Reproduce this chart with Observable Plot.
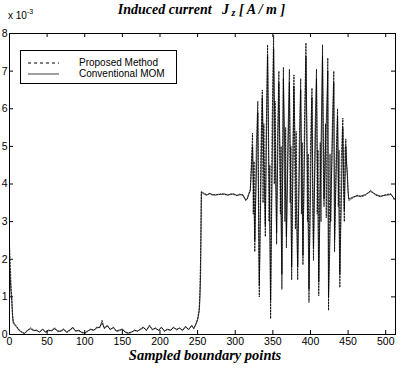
<!DOCTYPE html>
<html><head><meta charset="utf-8">
<script src="https://cdn.jsdelivr.net/npm/d3@7"></script>
<script src="https://cdn.jsdelivr.net/npm/@observablehq/plot@0.6"></script>
<style>
body{margin:0;background:#fff;}
#wrap{position:relative;width:403px;height:372px;overflow:hidden;}
.ser{font-family:"Liberation Serif","Times New Roman",serif;font-style:italic;font-weight:bold;color:#000;}
.sans{font-family:"Liberation Sans",Arial,sans-serif;color:#000;}
</style></head><body>
<div id="wrap"></div>
<script>
// Conventional MOM: sample index and induced current (x 1e-3)
const idxC = [0,1,2,3,4,5,7,10,13,17,20,24,28,32,36,40,44,48,52,56,60,64,68,72,76,80,84,88,92,96,100,104,108,112,116,120,123,126,130,134,138,142,146,150,154,158,162,166,170,174,178,182,186,190,194,198,202,206,210,214,218,222,226,230,234,238,242,245,248,250,252,253,254,255,258,262,266,270,274,278,282,286,290,294,298,302,306,310,314,316,318,320,321,323,326,330,332,336,340,343,347,351,355,358,362,364,368,372,375,378,383,387,390,394,398,402,404,408,411,416,418,423,424,431,432,436,439,443,445,447,448,449,450,451,457,462,467,473,480,487,493,500,507,512];
const conventional = [1.8,1.5,1.1,0.9,0.5,0.3,0.25,0.18,0.1,0.06,0.03,0.12,0.15,0.1,0.12,0.06,0.13,0.07,0.1,0.11,0.15,0.1,0.08,0.13,0.07,0.12,0.17,0.1,0.1,0.06,0.04,0.1,0.13,0.12,0.17,0.2,0.3,0.18,0.22,0.14,0.18,0.1,0.12,0.13,0.07,0.04,0.07,0.1,0.1,0.13,0.18,0.12,0.22,0.14,0.16,0.12,0.18,0.1,0.13,0.12,0.18,0.14,0.16,0.12,0.2,0.14,0.22,0.17,0.28,0.38,0.6,0.9,1.6,3.78,3.74,3.7,3.75,3.72,3.7,3.73,3.72,3.74,3.71,3.72,3.74,3.7,3.71,3.72,3.58,3.6,3.72,3.82,4.2,5.0,2.5,5.9,1.3,6.3,2.9,7.4,0.9,7.6,2.7,6.7,1.6,6.8,2.6,6.7,1.8,6.6,1.8,6.5,2.1,7.4,1.2,6.3,2.3,6.8,1.4,7.4,3.6,7.0,1.0,6.7,2.5,5.8,1.6,5.5,3.3,5.0,4.5,4.2,3.78,3.6,3.66,3.68,3.68,3.72,3.8,3.72,3.68,3.7,3.72,3.6];
// Proposed Method: sample index and induced current (x 1e-3)
const idxP = [0,1,2,3,4,5,7,10,13,17,20,24,28,32,36,40,44,48,52,56,60,64,68,72,76,80,84,88,92,96,100,104,108,112,116,120,123,126,130,134,138,142,146,150,154,158,162,166,170,174,178,182,186,190,194,198,202,206,210,214,218,222,226,230,234,238,242,245,248,250,252,253,254,255,258,262,266,270,274,278,282,286,290,294,298,302,306,310,314,316,318,320,321,323,324,325,326,328,330,331,332,334,336,337,338,340,341,343,345,346,347,349,351,352,353,355,356,358,360,361,362,363,364,366,367,368,370,372,373,374,375,377,378,380,381,383,385,387,388,389,390,392,394,396,397,398,400,402,403,404,406,408,409,410,411,413,414,416,417,418,420,421,423,424,426,427,429,431,432,434,436,437,438,439,441,443,444,445,446,447,448,449,450,451,457,462,467,473,480,487,493,500,507,512];
const proposed = [2.4,1.9,1.3,1.0,0.55,0.35,0.28,0.2,0.12,0.05,0.02,0.1,0.18,0.12,0.1,0.07,0.15,0.05,0.12,0.09,0.18,0.08,0.1,0.15,0.05,0.1,0.2,0.08,0.12,0.05,0.03,0.08,0.15,0.1,0.2,0.18,0.38,0.15,0.25,0.12,0.2,0.08,0.1,0.15,0.05,0.03,0.05,0.12,0.08,0.15,0.2,0.1,0.25,0.12,0.18,0.1,0.2,0.08,0.15,0.1,0.2,0.12,0.18,0.1,0.22,0.12,0.25,0.15,0.3,0.42,0.65,1.1,2.1,3.8,3.76,3.72,3.74,3.7,3.73,3.71,3.75,3.72,3.7,3.74,3.72,3.69,3.73,3.7,3.56,3.62,3.75,3.85,4.3,5.35,3.2,4.6,2.2,5.0,6.2,3.0,1.0,4.8,6.5,3.5,5.6,2.6,5.2,7.7,3.0,4.5,0.42,5.5,7.95,4.0,6.2,2.4,5.0,7.0,3.2,5.0,1.2,4.5,7.1,3.0,5.5,2.3,5.2,7.05,3.5,5.0,1.45,5.3,6.9,2.8,5.4,1.45,5.0,6.8,3.2,5.1,1.85,5.6,7.75,3.0,4.8,0.85,5.0,6.55,3.4,1.97,5.3,7.05,3.2,4.9,1.03,5.1,3.0,7.7,4.5,3.4,5.6,3.1,7.35,0.64,4.8,3.0,5.5,7.0,2.2,4.6,6.0,3.4,4.9,1.25,4.7,5.75,3.8,3.0,4.9,5.2,4.6,4.3,3.8,3.56,3.64,3.7,3.66,3.7,3.83,3.7,3.66,3.72,3.74,3.56];
const xTicks = [0,50,100,150,200,250,300,350,400,450,500];
const yTicks = [0,1,2,3,4,5,6,7,8];
const seriesNames = ["Proposed Method","Conventional MOM"];

const W = 403, H = 372, mL = 9, mR = 8, mT = 33, mB = 38;
const pw = W - mL - mR, ph = H - mT - mB, tk = 4;
const rowsC = idxC.map((x,i)=>({x, v: conventional[i]}));
const rowsP = idxP.map((x,i)=>({x, v: proposed[i]}));

const chart = Plot.plot({
  width: W, height: H,
  marginLeft: mL, marginRight: mR, marginTop: mT, marginBottom: mB,
  style: {background: "#fff", fontFamily: "'Liberation Sans', Arial, sans-serif", fontSize: "10.5px", color: "#000"},
  x: {domain: [0, 513], ticks: xTicks},
  y: {domain: [0, 8], ticks: yTicks},
  marks: [
    Plot.line(rowsC, {x: "x", y: "v", stroke: "#111", strokeWidth: 0.8}),
    Plot.line(rowsP, {x: "x", y: "v", stroke: "#000", strokeWidth: 0.8, strokeDasharray: "1.5,1.5"}),
    Plot.frame({stroke: "#000", strokeWidth: 1}),
    Plot.tickX(xTicks, {x: d=>d, insetTop: ph - tk, stroke: "#000"}),
    Plot.tickX(xTicks, {x: d=>d, insetBottom: ph - tk, stroke: "#000"}),
    Plot.tickY(yTicks, {y: d=>d, insetRight: pw - tk, stroke: "#000"}),
    Plot.tickY(yTicks, {y: d=>d, insetLeft: pw - tk, stroke: "#000"}),
    Plot.axisX(xTicks, {tickSize: 0, tickPadding: 3, label: null}),
    Plot.axisY(yTicks, {tickSize: 0, tickPadding: 2, label: null})
  ]
});
const wrap = document.getElementById("wrap");
wrap.appendChild(chart);
chart.style.position = "absolute"; chart.style.left = "0"; chart.style.top = "0";

function add(html, css){ const d = document.createElement("div"); d.innerHTML = html; d.style.cssText = "position:absolute;" + css; wrap.appendChild(d); return d; }
add('Induced current&nbsp;&nbsp; J<span style="font-size:10px;position:relative;top:2px"> z</span> [ A / m ]', "left:0;top:2px;width:403px;text-align:center;font-size:14px;white-space:pre;").className = "ser";
add('Sampled boundary points', "left:0;top:347px;width:410px;text-align:center;font-size:14.5px;").className = "ser";
add('x 10<span style="font-size:7px;position:relative;top:-5px">-3</span>', "left:8px;top:10px;font-size:10px;").className = "sans";
// legend
const leg = add(
  '<svg width="158" height="34" style="position:absolute;left:0;top:0">' +
  '<line x1="7" x2="38" y1="12" y2="12" stroke="#000" stroke-width="1" stroke-dasharray="3,3"/>' +
  '<line x1="7" x2="38" y1="23" y2="23" stroke="#111" stroke-width="0.8"/></svg>' +
  '<div style="position:absolute;left:58px;top:6px;line-height:11px;font-size:10px">' + seriesNames[0] + '</div>' +
  '<div style="position:absolute;left:58px;top:17px;line-height:11px;font-size:10px">' + seriesNames[1] + '</div>',
  "left:20px;top:50px;width:157px;height:34px;border:1px solid #000;background:#fff;box-sizing:border-box;");
leg.className = "sans";
</script>
</body></html>
